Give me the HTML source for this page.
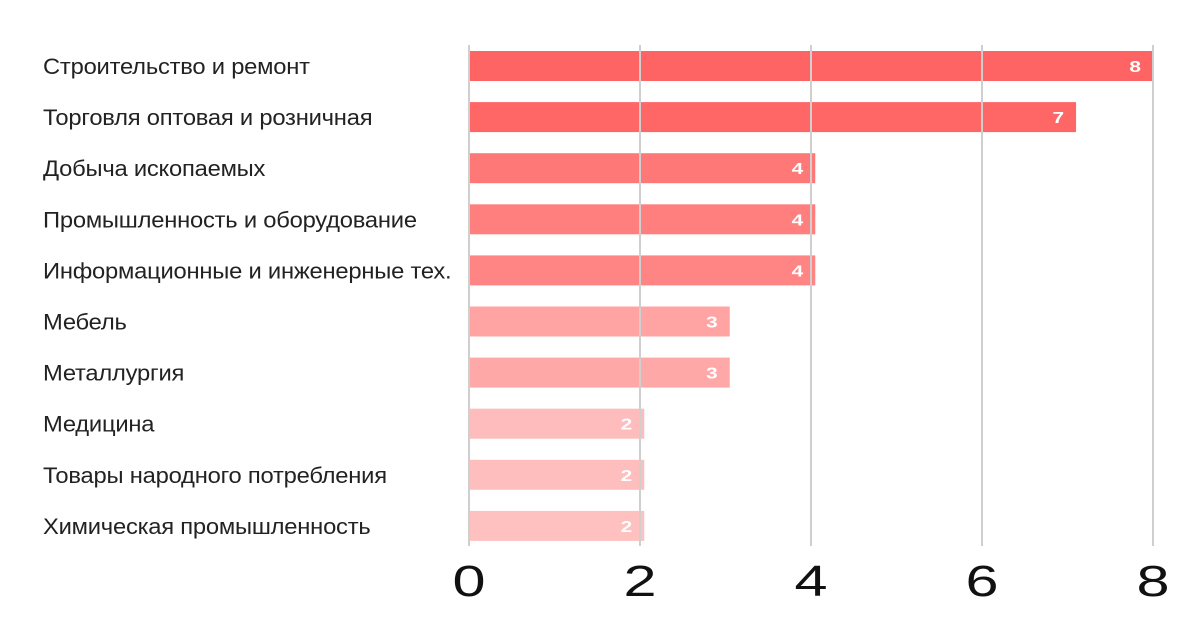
<!DOCTYPE html>
<html><head><meta charset="utf-8"><style>
html,body{margin:0;padding:0;background:#fff;width:1200px;height:630px;overflow:hidden}
text{font-family:"Liberation Sans",sans-serif}
</style></head><body>
<svg id="chart" width="1200" height="630" xmlns="http://www.w3.org/2000/svg"></svg>
<script>
const categories=["Строительство и ремонт","Торговля оптовая и розничная","Добыча ископаемых","Промышленность и оборудование","Информационные и инженерные тех.","Мебель","Металлургия","Медицина","Товары народного потребления","Химическая промышленность"];
const values=[8,7.1,4.05,4.05,4.05,3.05,3.05,2.05,2.05,2.05];
const valueLabels=["8","7","4","4","4","3","3","2","2","2"];
const ticks=[0,2,4,6,8];
const tickLabels=["0","2","4","6","8"];
const colors=["#ff6464","#ff6666","#ff7878","#ff7f7f","#ff8585","#ffa3a3","#ffa8a8","#ffbcbc","#ffbebe","#ffc0c0"];
const svg=document.getElementById('chart');
const NS="http://www.w3.org/2000/svg";
const x0=469,unit=85.5;
const x=v=>x0+v*unit;
const rowY=i=>66+i*51.1;
function mk(t,a){const e=document.createElementNS(NS,t);for(const k in a)e.setAttribute(k,a[k]);svg.appendChild(e);return e;}
categories.forEach((c,i)=>{
  const t=mk('text',{x:43,y:rowY(i)+8,'font-size':22,fill:'#222','letter-spacing':'-0.2',transform:'translate(43,0) scale(1.08,1) translate(-43,0)'});
  t.textContent=c;
  
  
  const r=mk('rect',{x:x0,y:rowY(i)-15,width:x(values[i])-x0,height:30,fill:colors[i]});
  
  
});
ticks.forEach((v,i)=>{
  const l=mk('line',{x1:x(v),x2:x(v),y1:45,y2:546,stroke:'#cfcfcf','stroke-width':2});
  
  
  const t=mk('text',{x:x(v),y:596,'font-size':44,'text-anchor':'middle',fill:'#111',transform:`translate(${x(v)},0) scale(1.35,1) translate(${-x(v)},0)`});
  t.textContent=tickLabels[i];
  
  
});
values.forEach((v,i)=>{
  const t=mk('text',{x:x(v)-12,y:rowY(i)+6,'font-size':16,'font-weight':'bold','text-anchor':'end',fill:'#fff',transform:`translate(${x(v)-12},0) scale(1.3,1) translate(${-(x(v)-12)},0)`});
  t.textContent=valueLabels[i];
  
  
});
</script>
</body></html>
